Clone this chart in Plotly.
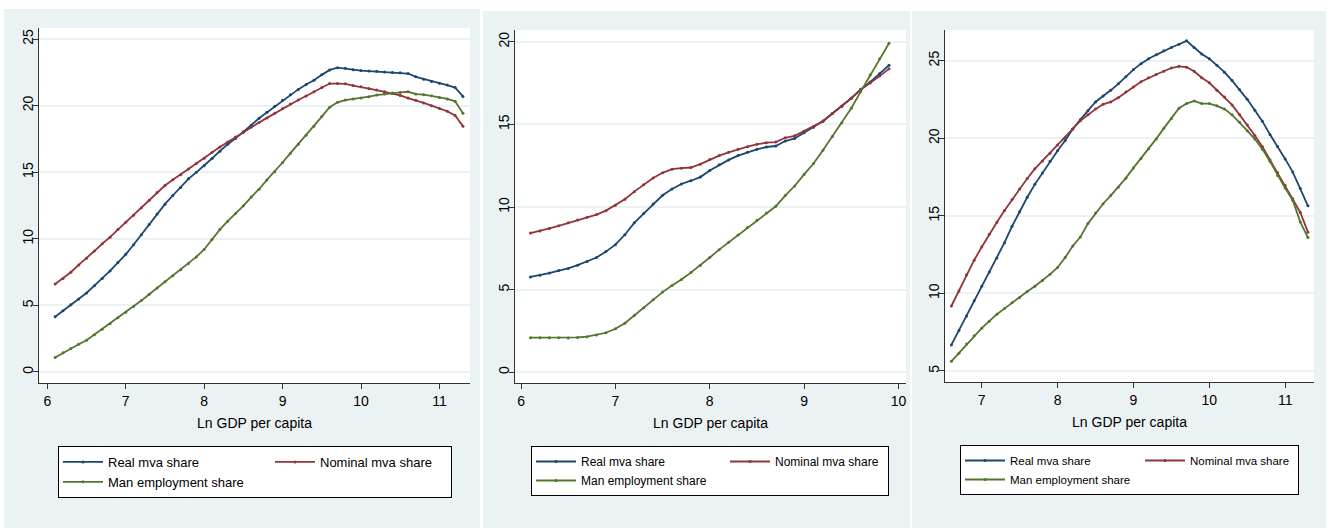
import plotly.graph_objects as go

# ---------------- data ----------------
x_p1 = [6.1, 6.2, 6.3, 6.4, 6.5, 6.6, 6.7, 6.8, 6.9, 7.0, 7.1, 7.2, 7.3, 7.4, 7.5, 7.6, 7.7, 7.8, 7.9, 8.0,
        8.1, 8.2, 8.3, 8.4, 8.5, 8.6, 8.7, 8.8, 8.9, 9.0, 9.1, 9.2, 9.3, 9.4, 9.5, 9.6, 9.7, 9.8, 9.9, 10.0,
        10.1, 10.2, 10.3, 10.4, 10.5, 10.6, 10.7, 10.8, 10.9, 11.0, 11.1, 11.2, 11.3]
real_p1 = [4.14, 4.59, 5.04, 5.48, 5.93, 6.48, 7.02, 7.59, 8.21, 8.83, 9.55, 10.3, 11.07, 11.86, 12.6, 13.25,
           13.85, 14.5, 14.99, 15.48, 16.03, 16.58, 17.1, 17.54, 18.0, 18.53, 19.06, 19.5, 19.95, 20.4, 20.82,
           21.22, 21.59, 21.91, 22.31, 22.68, 22.85, 22.8, 22.7, 22.63, 22.6, 22.58, 22.53, 22.48, 22.46, 22.41,
           22.16, 21.99, 21.81, 21.69, 21.54, 21.36, 20.69]
nominal_p1 = [6.6, 7.02, 7.49, 8.04, 8.54, 9.08, 9.63, 10.12, 10.69, 11.24, 11.76, 12.33, 12.9, 13.47, 14.0, 14.44,
              14.81, 15.24, 15.66, 16.05, 16.48, 16.9, 17.27, 17.64, 18.04, 18.4, 18.73, 19.08, 19.43, 19.78, 20.12,
              20.42, 20.72, 21.04, 21.36, 21.66, 21.66, 21.64, 21.51, 21.41, 21.29, 21.17, 21.04, 20.92, 20.77, 20.57,
              20.4, 20.2, 20.0, 19.78, 19.58, 19.26, 18.46]
employ_p1 = [1.09, 1.44, 1.76, 2.08, 2.38, 2.8, 3.2, 3.62, 4.07, 4.49, 4.91, 5.36, 5.83, 6.3, 6.77, 7.22, 7.67,
             8.14, 8.64, 9.2, 9.95, 10.69, 11.32, 11.89, 12.48, 13.13, 13.72, 14.42, 15.04, 15.73, 16.43, 17.1,
             17.77, 18.46, 19.18, 19.88, 20.25, 20.42, 20.5, 20.57, 20.67, 20.79, 20.87, 20.94, 20.99, 21.04, 20.87,
             20.82, 20.74, 20.62, 20.5, 20.32, 19.43]

x_p2 = [6.1, 6.2, 6.3, 6.4, 6.5, 6.6, 6.7, 6.8, 6.9, 7.0, 7.1, 7.2, 7.3, 7.4, 7.5, 7.6, 7.7, 7.8, 7.9, 8.0,
        8.1, 8.2, 8.3, 8.4, 8.5, 8.6, 8.7, 8.8, 8.9, 9.0, 9.1, 9.2, 9.3, 9.4, 9.5, 9.6, 9.7, 9.8, 9.9]
real_p2 = [5.77, 5.87, 6.0, 6.15, 6.28, 6.48, 6.7, 6.94, 7.3, 7.72, 8.32, 9.04, 9.6, 10.18, 10.71, 11.09, 11.39,
           11.59, 11.81, 12.21, 12.55, 12.85, 13.11, 13.31, 13.49, 13.63, 13.69, 13.99, 14.15, 14.49, 14.82, 15.2,
           15.66, 16.1, 16.58, 17.12, 17.56, 18.06, 18.58]
nominal_p2 = [8.42, 8.54, 8.7, 8.86, 9.04, 9.22, 9.38, 9.54, 9.78, 10.1, 10.47, 10.93, 11.35, 11.75, 12.07, 12.29,
              12.35, 12.39, 12.59, 12.87, 13.11, 13.31, 13.49, 13.65, 13.79, 13.89, 13.93, 14.19, 14.31, 14.59, 14.86,
              15.18, 15.66, 16.1, 16.58, 17.1, 17.5, 17.92, 18.36]
employ_p2 = [2.09, 2.09, 2.09, 2.09, 2.08, 2.11, 2.15, 2.25, 2.39, 2.63, 2.97, 3.43, 3.91, 4.39, 4.85, 5.25, 5.61,
             6.03, 6.46, 6.94, 7.42, 7.86, 8.3, 8.76, 9.2, 9.64, 10.04, 10.69, 11.27, 11.97, 12.63, 13.43, 14.27,
             15.1, 15.98, 16.98, 17.98, 18.97, 19.91]

x_p3 = [6.6, 6.7, 6.8, 6.9, 7.0, 7.1, 7.2, 7.3, 7.4, 7.5, 7.6, 7.7, 7.8, 7.9, 8.0, 8.1, 8.2, 8.3, 8.4, 8.5,
        8.6, 8.7, 8.8, 8.9, 9.0, 9.1, 9.2, 9.3, 9.4, 9.5, 9.6, 9.7, 9.8, 9.9, 10.0, 10.1, 10.2, 10.3, 10.4, 10.5,
        10.6, 10.7, 10.8, 10.9, 11.0, 11.1, 11.2, 11.3]
real_p3 = [6.68, 7.61, 8.55, 9.53, 10.46, 11.38, 12.29, 13.27, 14.33, 15.27, 16.2, 17.03, 17.77, 18.52, 19.2, 19.86,
           20.6, 21.2, 21.77, 22.34, 22.73, 23.09, 23.51, 23.96, 24.43, 24.81, 25.13, 25.38, 25.64, 25.85, 26.06,
           26.28, 25.85, 25.43, 25.13, 24.7, 24.26, 23.72, 23.13, 22.51, 21.81, 21.09, 20.24, 19.47, 18.67, 17.82,
           16.77, 15.65]
nominal_p3 = [9.19, 10.16, 11.21, 12.14, 12.99, 13.82, 14.59, 15.35, 16.05, 16.73, 17.41, 18.03, 18.54, 19.03, 19.56,
              20.03, 20.6, 21.13, 21.51, 21.88, 22.19, 22.34, 22.62, 22.98, 23.3, 23.64, 23.9, 24.11, 24.32, 24.53,
              24.64, 24.58, 24.32, 23.9, 23.58, 23.09, 22.66, 22.15, 21.51, 20.86, 20.18, 19.45, 18.6, 17.8, 16.95,
              16.1, 15.22, 13.95]
employ_p3 = [5.62, 6.15, 6.74, 7.27, 7.76, 8.21, 8.66, 9.02, 9.4, 9.74, 10.12, 10.46, 10.84, 11.23, 11.67, 12.31,
             13.06, 13.63, 14.5, 15.18, 15.78, 16.31, 16.84, 17.43, 18.09, 18.69, 19.32, 19.96, 20.64, 21.28, 21.94,
             22.24, 22.41, 22.24, 22.24, 22.09, 21.88, 21.51, 21.03, 20.49, 19.95, 19.3, 18.5, 17.6, 16.8, 16.0,
             14.6, 13.6]

series_names = ["Real mva share", "Nominal mva share", "Man employment share"]
x_ticks_p1 = [6, 7, 8, 9, 10, 11]
y_ticks_p1 = [0, 5, 10, 15, 20, 25]
x_ticks_p2 = [6, 7, 8, 9, 10]
y_ticks_p2 = [0, 5, 10, 15, 20]
x_ticks_p3 = [7, 8, 9, 10, 11]
y_ticks_p3 = [5, 10, 15, 20, 25]
x_title = "Ln GDP per capita"

# ---------------- style ----------------
W, H = 1331, 528
COLORS = ["#1A476F", "#90353B", "#55752F"]
BG = "#EAF2F3"
FONT = "Liberation Sans Narrow, Arial Narrow, Liberation Sans, Arial, sans-serif"

def fx(px):
    return px / W

def fy(py):
    return 1 - py / H

panels = [
    dict(x=x_p1, ys=[real_p1, nominal_p1, employ_p1], xt=x_ticks_p1, yt=y_ticks_p1,
         xr=[5.894, 11.39], yr=[-0.83, 25.83], dom_x=[39, 470], dom_y=[28, 383],
         bg=[4, 9, 480, 528], leg=[58, 446], lw=[157, 126], lf=13),
    dict(x=x_p2, ys=[real_p2, nominal_p2, employ_p2], xt=x_ticks_p2, yt=y_ticks_p2,
         xr=[5.936, 10.08], yr=[-0.65, 20.71], dom_x=[515, 906], dom_y=[30, 383],
         bg=[483, 11, 910, 528], leg=[531, 446], lw=[139, 108], lf=12),
    dict(x=x_p3, ys=[real_p3, nominal_p3, employ_p3], xt=x_ticks_p3, yt=y_ticks_p3,
         xr=[6.516, 11.38], yr=[4.29, 26.98], dom_x=[945, 1314], dom_y=[30, 382],
         bg=[912, 11, 1326, 528], leg=[960, 445], lw=[125, 103], lf=11.5),
]

fig = go.Figure()
shapes = []
layout = dict(width=W, height=H, margin=dict(l=0, r=0, t=0, b=0, autoexpand=False),
              paper_bgcolor="white", plot_bgcolor="white",
              font=dict(family=FONT, size=14, color="black"), showlegend=True)

for i, p in enumerate(panels):
    n = i + 1
    xa = "x" if n == 1 else f"x{n}"
    ya = "y" if n == 1 else f"y{n}"
    leg = "legend" if n == 1 else f"legend{n}"
    groups = ["a", "b", "a"]
    widths = [p["lw"][0], p["lw"][1], p["lw"][0]]
    for s in range(3):
        fig.add_trace(go.Scatter(
            x=p["x"], y=p["ys"][s], name=series_names[s], mode="lines+markers",
            line=dict(color=COLORS[s], width=1.8), marker=dict(color=COLORS[s], size=3),
            xaxis=xa, yaxis=ya, legend=leg, legendgroup=f"{n}{groups[s]}",
            legendwidth=widths[s]))
    b = p["bg"]
    shapes.append(dict(type="rect", xref="paper", yref="paper", x0=fx(b[0]), x1=fx(b[2]),
                       y0=fy(b[3]), y1=fy(b[1]), fillcolor=BG, line=dict(width=0), layer="below"))
    shapes.append(dict(type="rect", xref="paper", yref="paper", x0=fx(p["dom_x"][0]), x1=fx(p["dom_x"][1]),
                       y0=fy(p["dom_y"][1]), y1=fy(p["dom_y"][0]), fillcolor="white",
                       line=dict(width=0), layer="below"))
    axkey = "xaxis" if n == 1 else f"xaxis{n}"
    aykey = "yaxis" if n == 1 else f"yaxis{n}"
    layout[axkey] = dict(domain=[fx(p["dom_x"][0]), fx(p["dom_x"][1])], range=p["xr"], anchor=ya,
                         tickvals=p["xt"], ticks="outside", ticklen=5, tickcolor="#333", showline=True,
                         linecolor="#333", linewidth=1, showgrid=False, zeroline=False,
                         tickfont=dict(size=14), title=dict(text=x_title, font=dict(size=14), standoff=10))
    layout[aykey] = dict(domain=[fy(p["dom_y"][1]), fy(p["dom_y"][0])], range=p["yr"], anchor=xa,
                         tickvals=p["yt"], tickangle=-90, ticks="outside", ticklen=5, tickcolor="#333",
                         showline=True, linecolor="#333", linewidth=1, showgrid=True, gridcolor=BG,
                         gridwidth=1.5, zeroline=False, tickfont=dict(size=14), ticklabelstandoff=-6)
    layout[leg] = dict(orientation="h", traceorder="grouped", x=fx(p["leg"][0]), y=fy(p["leg"][1]),
                       xanchor="left", yanchor="top", bgcolor="white", bordercolor="black",
                       borderwidth=1, font=dict(size=p["lf"]), itemwidth=40)

layout["shapes"] = shapes
fig.update_layout(**layout)
fig.write_html("out.html")
